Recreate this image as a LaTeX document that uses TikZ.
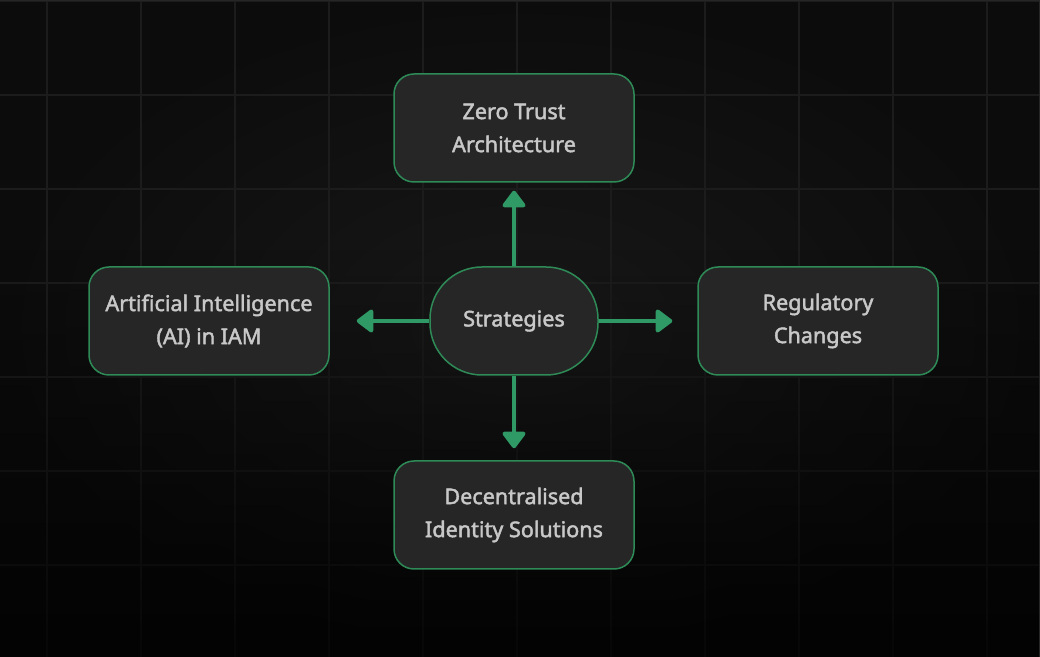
\documentclass[tikz,border=0pt]{standalone}
\usepackage{fontspec}
\setmainfont{Noto Sans}[UprightFeatures={FakeBold=2}]
\usetikzlibrary{arrows.meta, fadings}
\definecolor{bgmid}{HTML}{181818}
\definecolor{bgedge}{HTML}{0C0C0C}
\definecolor{gridline}{HTML}{1C1C1C}
\definecolor{edgeline}{HTML}{262626}
\definecolor{boxfill}{HTML}{262626}
\definecolor{boxline}{HTML}{2E8B57}
\definecolor{arrowgreen}{HTML}{309A66}
\definecolor{labelgray}{HTML}{C8C8C8}
\tikzstyle{box} = [rectangle, rounded corners=10pt, minimum width=120pt, minimum height=54pt, align=center, fill=boxfill, draw=boxline, line width=0.75pt, text=labelgray, font=\fontsize{10.8}{16.5}\selectfont]
\tikzstyle{hub} = [box, rounded corners=26pt, minimum width=84pt]
\tikzstyle{arrow} = [line width=2pt, arrowgreen, -{Triangle[round, width=13pt, length=9pt]}]

\begin{document}
\begin{tikzpicture}[x=0.5pt, y=-0.5pt]
            \useasboundingbox (0,0) rectangle (1040,657);
            % background and grid
            \shade [inner color=bgmid, outer color=bgedge] (0,0) rectangle (1040,657);
            \foreach \gx in {47,141,...,987}
                \draw [gridline, line width=0.75pt] (\gx,0) -- (\gx,657);
            \foreach \gy in {1,95,...,565}
                \draw [gridline, line width=0.75pt] (0,\gy) -- (1040,\gy);
            \fill [black, path fading=north, opacity=0.75] (0,250) rectangle (1040,657);
            \draw [edgeline, line width=0.75pt] (0,0.75) -- (1039.25,0.75) -- (1039.25,657);

            \node (ctr)  [hub] at (514,321) {Strategies};
            \node (zta)  [box] at (514,128) {Zero Trust\\Architecture};
            \node (aiam) [box] at (209,321) {Artificial Intelligence\\(AI) in IAM};
            \node (reg)  [box] at (818,321) {Regulatory\\Changes};
            \node (did)  [box] at (514,515) {Decentralised\\Identity Solutions};

            \draw [arrow, shorten >=4pt]    (ctr) -- (zta);
            \draw [arrow, shorten >=13.5pt] (ctr) -- (aiam);
            \draw [arrow, shorten >=12.5pt] (ctr) -- (reg);
            \draw [arrow, shorten >=6pt]    (ctr) -- (did);
        \end{tikzpicture}
\end{document}
